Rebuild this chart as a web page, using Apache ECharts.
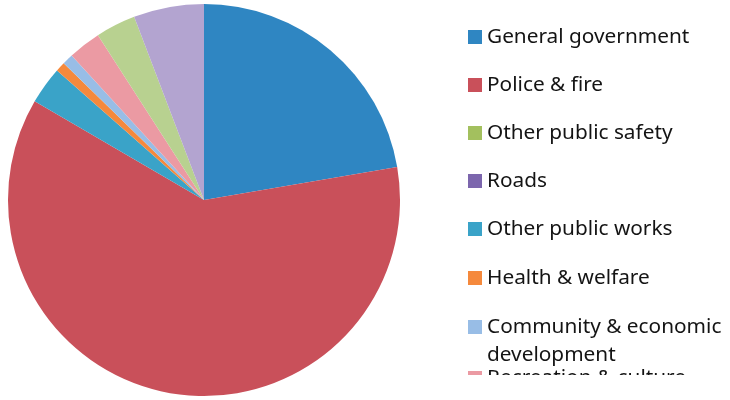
<!DOCTYPE html>
<html>
<head>
<meta charset="utf-8">
<script src="https://cdn.jsdelivr.net/npm/echarts@6/dist/echarts.min.js"></script>
<style>html,body{margin:0;padding:0;background:#fff;}#c{width:730px;height:400px;}</style>
</head>
<body>
<div id="c"></div>
<script>
// Data (clockwise from 12 o'clock)
const categories = ["General government", "Police & fire", "Other public safety", "Roads",
  "Other public works", "Health & welfare", "Community & economic development",
  "Recreation & culture", "Debt service", "Other"];
const values = [22.3, 61.1, 0, 0, 3.1, 0.8, 0.9, 2.7, 3.3, 5.8];
const colors = ["#2f86c2", "#c9505a", "#a3c05e", "#7c66ad", "#3aa3c8", "#f5893c",
  "#98bde6", "#eb9aa3", "#b8d190", "#b3a4d0"];
const legendItems = ["General government", "Police & fire", "Other public safety", "Roads",
  "Other public works", "Health & welfare", "Community & economic development", "Recreation & culture"];

const chart = echarts.init(document.getElementById('c'));
const centers = [37, 85, 133, 181, 229, 278, 327, 378];
const LH = 24;
const legends = legendItems.map((name, i) => {
  const twoLine = name === "Community & economic development";
  const lg = {
    data: [name],
    orient: 'vertical',
    left: 463,
    itemWidth: 14,
    itemHeight: 14,
    icon: 'rect',
    selectedMode: false,
    textStyle: { fontFamily: 'Noto Sans', fontSize: 20.8, color: '#141414', lineHeight: LH }
  };
  if (twoLine) {
    lg.formatter = () => "\nCommunity & economic\ndevelopment";
    lg.textStyle = Object.assign({}, lg.textStyle, { lineHeight: 28 });
    lg.top = centers[i] - 5 - 42;
  } else {
    lg.top = centers[i] - 5 - LH / 2;
  }
  return lg;
});

chart.setOption({
  animation: false,
  color: colors,
  legend: legends,
  graphic: [{
    type: 'rect', z: 1000, left: 455, top: 375,
    shape: { width: 275, height: 25 }, style: { fill: '#fff' }
  }],
  series: [{
    type: 'pie',
    center: [204, 200],
    radius: [0, 196],
    startAngle: 90,
    clockwise: true,
    label: { show: false },
    labelLine: { show: false },
    itemStyle: { borderWidth: 0 },
    emphasis: { disabled: true },
    data: categories.map((c, i) => ({ name: c, value: values[i], itemStyle: { color: colors[i] } }))
  }]
});
</script>
</body>
</html>
